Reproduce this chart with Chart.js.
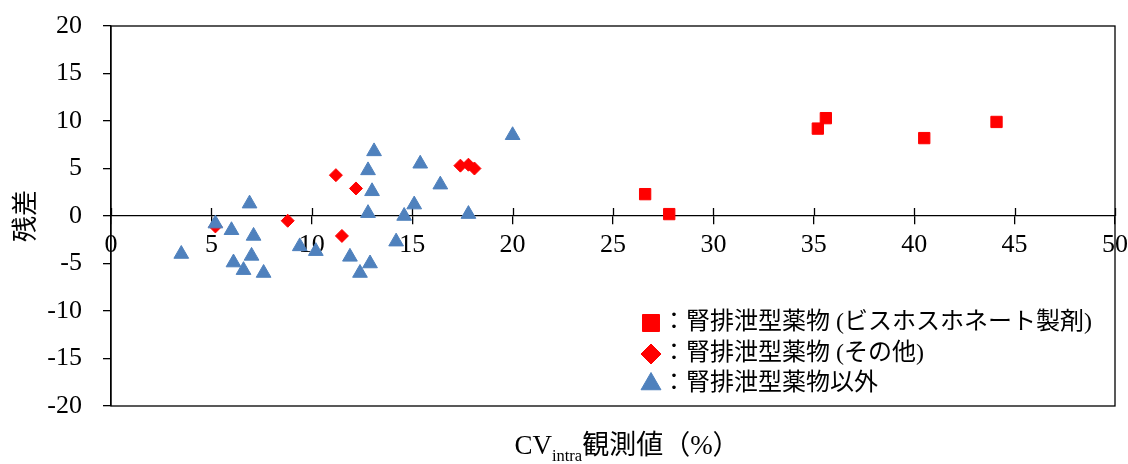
<!DOCTYPE html>
<html>
<head>
<meta charset="utf-8">
<script src="https://cdn.jsdelivr.net/npm/chart.js@4.4.1/dist/chart.umd.min.js"></script>
<style>
  body { margin: 0; background: #fff; }
  #wrap { width: 1128px; height: 464px; background: #fff; }
</style>
</head>
<body>
<div id="wrap"><canvas id="chartResidual"></canvas></div>
<script>
var FONT = "'Liberation Serif', 'Times New Roman', 'Noto Sans CJK JP', serif"

// 腎排泄型薬物 (ビスホスホネート製剤)
var bisX = [26.6, 27.8, 35.2, 35.6, 40.5, 44.1]
var bisY = [2.3, 0.2, 9.2, 10.3, 8.2, 9.9]

// 腎排泄型薬物 (その他)
var otherX = [5.2, 8.8, 11.2, 11.5, 12.2, 17.4, 17.8, 18.1]
var otherY = [-1.1, -0.5, 4.3, -2.1, 2.9, 5.3, 5.4, 5.0]

// 腎排泄型薬物以外
var nonX = [3.5, 5.2, 6.0, 6.1, 6.9, 7.0, 6.6, 7.1, 7.6, 9.4, 10.2, 11.9, 12.4, 12.9, 12.8, 12.8, 13.0, 13.1, 14.2, 14.6, 15.1, 15.4, 16.4, 17.8, 20.0]
var nonY = [-4.0, -0.8, -1.5, -4.9, 1.3, -4.2, -5.7, -2.1, -6.0, -3.2, -3.7, -4.3, -6.0, -5.0, 0.3, 4.8, 2.6, 6.8, -2.7, 0.0, 1.2, 5.5, 3.3, 0.2, 8.5]

var seriesLabels = ['腎排泄型薬物 (ビスホスホネート製剤)', '腎排泄型薬物 (その他)', '腎排泄型薬物以外']
var yTitle = '残差'
var xTitleMain = 'CV'
var xTitleSub = 'intra'
var xTitleRest = '観測値（%）'

function toPoints(xs, ys) {
  return xs.map(function (x, i) { return { x: x, y: ys[i] } })
}

// frame, upper half of the x ticks
var framePlugin = {
  id: 'frame',
  beforeDatasetsDraw: function (chart) {
    var ctx = chart.ctx
    var a = chart.chartArea
    var xs = chart.scales.x
    var y0 = chart.scales.y.getPixelForValue(0)
    ctx.save()
    ctx.strokeStyle = '#000'
    ctx.lineWidth = 1.3
    ctx.strokeRect(a.left, a.top, a.right - a.left, a.bottom - a.top)
    xs.ticks.forEach(function (t, i) {
      var px = Math.round(xs.getPixelForTick(i)) + 0.5
      ctx.beginPath()
      ctx.moveTo(px, y0 - 8)
      ctx.lineTo(px, y0)
      ctx.stroke()
    })
    ctx.restore()
  }
}

// legend inside the plot + x title with subscript
var textPlugin = {
  id: 'texts',
  afterDraw: function (chart) {
    var ctx = chart.ctx
    var a = chart.chartArea
    ctx.save()
    // legend
    var lx = a.left + 540
    var rows = [a.top + 297, a.top + 328, a.top + 358]
    var sizes = [12, 10, 11.5]
    chart.data.datasets.forEach(function (ds, i) {
      var y = rows[i]
      ctx.fillStyle = ds.backgroundColor
      ctx.strokeStyle = ds.backgroundColor
      ctx.lineWidth = 1
      Chart.helpers.drawPoint(ctx, { pointStyle: ds.pointStyle, radius: sizes[i], rotation: 0, borderWidth: 1 }, lx, y)
      ctx.fillStyle = '#000'
      ctx.font = '24px ' + FONT
      ctx.textBaseline = 'middle'
      ctx.textAlign = 'left'
      ctx.fillText('：' + ds.label, lx + 11, y)
    })
    // x title
    var mainFont = '27px ' + FONT
    var subFont = '16.5px ' + FONT
    ctx.font = mainFont
    var w1 = ctx.measureText(xTitleMain).width
    var w3 = ctx.measureText(xTitleRest).width
    ctx.font = subFont
    var w2 = ctx.measureText(xTitleSub).width
    var start = a.left + 516 - (w1 + w2 + w3) / 2
    var base = 454
    ctx.textBaseline = 'alphabetic'
    ctx.fillStyle = '#000'
    ctx.font = mainFont
    ctx.fillText(xTitleMain, start, base)
    ctx.font = subFont
    ctx.fillText(xTitleSub, start + w1, base + 7)
    ctx.font = mainFont
    ctx.fillText(xTitleRest, start + w1 + w2, base)
    ctx.restore()
  }
}

var residualCanvas = document.getElementById('chartResidual').getContext('2d')

new Chart(residualCanvas, {
  type: 'scatter',
  data: {
    datasets: [
      {
        label: seriesLabels[0],
        data: toPoints(bisX, bisY),
        pointStyle: 'rect',
        pointRadius: 8,
        backgroundColor: '#FF0000',
        borderColor: '#FF0000',
        borderWidth: 1,
        order: 2
      },
      {
        label: seriesLabels[1],
        data: toPoints(otherX, otherY),
        pointStyle: 'rectRot',
        pointRadius: 6.5,
        backgroundColor: '#FF0000',
        borderColor: '#FF0000',
        borderWidth: 1,
        order: 1
      },
      {
        label: seriesLabels[2],
        data: toPoints(nonX, nonY),
        pointStyle: 'triangle',
        pointRadius: 8.5,
        backgroundColor: '#4F81BD',
        borderColor: '#4F81BD',
        borderWidth: 1,
        order: 0
      }
    ]
  },
  options: {
    responsive: true,
    maintainAspectRatio: false,
    animation: false,
    events: [],
    layout: { padding: { left: 0, top: 26, right: 13, bottom: 58 } },
    plugins: {
      legend: { display: false },
      tooltip: { enabled: false }
    },
    scales: {
      x: {
        type: 'linear',
        position: { y: 0 },
        min: 0,
        max: 50,
        afterFit: function (scale) { scale.paddingLeft = 0; scale.paddingRight = 0 },
        ticks: { stepSize: 5, color: '#000', font: { family: FONT, size: 26 }, padding: 6, maxRotation: 0 },
        grid: { drawOnChartArea: false, color: '#000', lineWidth: 1.3, tickLength: 8 },
        border: { color: '#000', width: 1.3 }
      },
      y: {
        type: 'linear',
        position: 'left',
        min: -20,
        max: 20,
        afterFit: function (scale) { scale.width = 111; scale.paddingTop = 0; scale.paddingBottom = 0 },
        ticks: { stepSize: 5, color: '#000', font: { family: FONT, size: 26 }, padding: 21 },
        grid: { drawOnChartArea: false, color: '#000', lineWidth: 1.3, tickLength: 8 },
        border: { color: '#000', width: 1.3 },
        title: { display: true, text: yTitle, color: '#000', font: { family: FONT, size: 26 }, padding: { top: 12, bottom: 0 } }
      }
    }
  },
  plugins: [framePlugin, textPlugin]
})
</script>
</body>
</html>
